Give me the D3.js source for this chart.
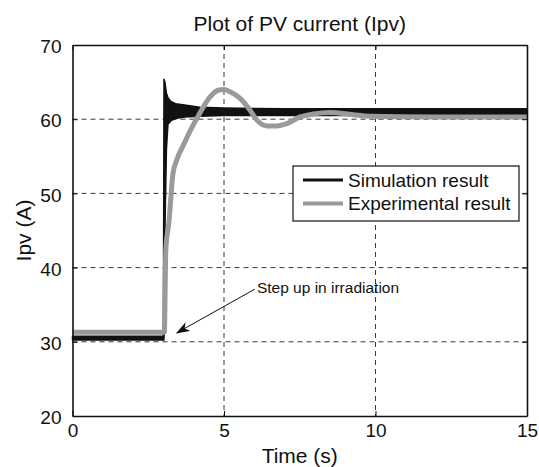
<!DOCTYPE html>
<html>
<head>
<meta charset="utf-8">
<script src="https://cdn.jsdelivr.net/npm/d3@7"></script>
<style>
  body { margin: 0; background: #fff; }
  text { font-family: "Liberation Sans", Arial, sans-serif; fill: #111; }
</style>
</head>
<body>
<div class="canvas"></div>
<script>
const dims = {'width': 539, 'height': 467};
const margin = {'left': 72.5, 'top': 45, 'right': 12, 'bottom': 51};

// simulation result: noisy band, kept as upper / lower envelope
const simTime  = [0, 3.0, 3.02, 3.05, 3.1, 3.15, 3.25, 3.4, 3.7, 4.2, 5, 7, 10, 15];
const simUpper = [30.75, 30.75, 65.4, 65.0, 63.5, 62.9, 62.4, 62.1, 61.9, 61.6, 61.5, 61.4, 61.4, 61.4];
const simLower = [30.25, 30.25, 30.25, 45, 56, 59.3, 59.8, 60.1, 60.3, 60.4, 60.5, 60.5, 60.5, 60.5];

// experimental result
const expTime  = [0, 3.03, 3.08, 3.19, 3.24, 3.31, 3.44, 3.66, 3.93, 4.2, 4.54, 4.81, 5.0, 5.2, 5.53, 5.86, 6.08, 6.41, 6.74, 7.07, 7.51, 7.95, 8.5, 9.26, 9.8, 12, 15];
const expValue = [31.3, 31.3, 42.4, 46.4, 49.1, 52.5, 54.5, 56.5, 58.8, 60.8, 63.0, 63.9, 64.0, 63.7, 62.8, 61.2, 59.9, 59.1, 59.1, 59.4, 60.3, 60.7, 60.9, 60.6, 60.4, 60.3, 60.3];

const xTicks = [0, 5, 10, 15];
const yTicks = [20, 30, 40, 50, 60, 70];
const legendLabels = ['Simulation result', 'Experimental result'];
// arrow tail / tip in data units
const annotation = {'text': 'Step up in irradiation', 'from': [6.02, 37.1], 'to': [3.44, 31.2]};

const colors = {'sim': '#111', 'exp': '#9a9a9a'};

const svg = d3.select('.canvas')
  .append('svg')
  .attr('width', dims.width)
  .attr('height', dims.height);

const w = dims.width - margin.left - margin.right;
const h = dims.height - margin.top - margin.bottom;

const graph = svg.append('g')
  .attr('transform', `translate(${margin.left},${margin.top})`);

const x = d3.scaleLinear().domain([0, 15]).range([0, w]);
const y = d3.scaleLinear().domain([20, 70]).range([h, 0]);

// grid
const grid = graph.append('g')
  .attr('stroke', '#222')
  .attr('stroke-width', 0.9)
  .attr('stroke-dasharray', '5,4');
grid.selectAll('.gx').data(xTicks.slice(1, -1)).enter().append('line')
  .attr('x1', d => x(d)).attr('x2', d => x(d))
  .attr('y1', 0).attr('y2', h);
grid.selectAll('.gy').data(yTicks.slice(1, -1)).enter().append('line')
  .attr('y1', d => y(d)).attr('y2', d => y(d))
  .attr('x1', 0).attr('x2', w);

// simulation band
const simData = simTime.map((t, i) => ({'t': t, 'hi': simUpper[i], 'lo': simLower[i]}));
const band = d3.area()
  .x(d => x(d.t))
  .y0(d => y(d.lo))
  .y1(d => y(d.hi));
graph.append('path')
  .datum(simData)
  .attr('d', band)
  .attr('fill', colors.sim)
  .attr('stroke', colors.sim)
  .attr('stroke-width', 1.5)
  .attr('stroke-linejoin', 'round');

// experimental line
const expData = expTime.map((t, i) => ({'t': t, 'v': expValue[i]}));
const line = d3.line()
  .x(d => x(d.t))
  .y(d => y(d.v))
  .curve(d3.curveMonotoneX);
graph.append('path')
  .datum(expData)
  .attr('d', line)
  .attr('fill', 'none')
  .attr('stroke', colors.exp)
  .attr('stroke-width', 5)
  .attr('stroke-linejoin', 'round');

// axes (box with inward ticks)
const xAxisB = d3.axisBottom(x).tickValues(xTicks).tickSizeInner(-5).tickSizeOuter(0).tickPadding(8);
const xAxisT = d3.axisTop(x).tickValues(xTicks).tickSizeInner(-5).tickSizeOuter(0).tickFormat('');
const yAxisL = d3.axisLeft(y).tickValues(yTicks).tickSizeInner(-5).tickSizeOuter(0).tickPadding(11);
const yAxisR = d3.axisRight(y).tickValues(yTicks).tickSizeInner(-5).tickSizeOuter(0).tickFormat('');

const gxb = graph.append('g').attr('transform', `translate(0,${h})`).call(xAxisB);
const gxt = graph.append('g').call(xAxisT);
const gyl = graph.append('g').call(yAxisL);
const gyr = graph.append('g').attr('transform', `translate(${w},0)`).call(yAxisR);

[gxb, gxt, gyl, gyr].forEach(g => {
  g.select('.domain').attr('stroke', '#111').attr('stroke-width', 1.6);
  g.selectAll('.tick line').attr('stroke', '#111').attr('stroke-width', 1);
  g.selectAll('.tick text')
    .attr('fill', '#111')
    .style('font-family', '"Liberation Sans", Arial, sans-serif')
    .style('font-size', '19px');
});
gyl.selectAll('.tick text').attr('dy', '0.4em');
gxb.selectAll('.tick text').attr('dy', '0.71em');

// legend
const legend = graph.append('g').attr('transform', `translate(${293 - margin.left},${166 - margin.top})`);
legend.append('rect')
  .attr('width', 226).attr('height', 55)
  .attr('fill', '#fff').attr('stroke', '#111').attr('stroke-width', 1.2);
const legendItems = legend.selectAll('.item').data(legendLabels).enter().append('g')
  .attr('transform', (d, i) => `translate(0,${14 + i * 23.5})`);
legendItems.append('line')
  .attr('x1', 10).attr('x2', 50)
  .attr('stroke', (d, i) => i === 0 ? colors.sim : colors.exp)
  .attr('stroke-width', (d, i) => i === 0 ? 3 : 4);
legendItems.append('text')
  .attr('x', 55).attr('dy', '0.35em')
  .style('font-size', '19px')
  .text(d => d);

// annotation arrow
svg.append('defs').append('marker')
  .attr('id', 'head')
  .attr('viewBox', '0 0 14 10')
  .attr('refX', 13).attr('refY', 5)
  .attr('markerWidth', 14).attr('markerHeight', 10)
  .attr('markerUnits', 'userSpaceOnUse')
  .attr('orient', 'auto')
  .append('path')
  .attr('d', 'M0,0 L14,5 L0,10 L4,5 Z')
  .attr('fill', '#111');
graph.append('line')
  .attr('x1', x(annotation.from[0])).attr('y1', y(annotation.from[1]))
  .attr('x2', x(annotation.to[0])).attr('y2', y(annotation.to[1]))
  .attr('stroke', '#111').attr('stroke-width', 1)
  .attr('marker-end', 'url(#head)');
graph.append('text')
  .attr('x', x(annotation.from[0]) + 2)
  .attr('y', y(annotation.from[1]) + 4)
  .style('font-size', '15.5px')
  .text(annotation.text);

// titles
svg.append('text')
  .attr('x', margin.left + w / 2).attr('y', 31)
  .attr('text-anchor', 'middle')
  .style('font-size', '21px')
  .text('Plot of PV current (Ipv)');
svg.append('text')
  .attr('x', margin.left + w / 2).attr('y', 463)
  .attr('text-anchor', 'middle')
  .style('font-size', '21px')
  .text('Time (s)');
svg.append('text')
  .attr('transform', `translate(31,${margin.top + h / 2}) rotate(-90)`)
  .attr('text-anchor', 'middle')
  .style('font-size', '21px')
  .text('Ipv (A)');
</script>
</body>
</html>
